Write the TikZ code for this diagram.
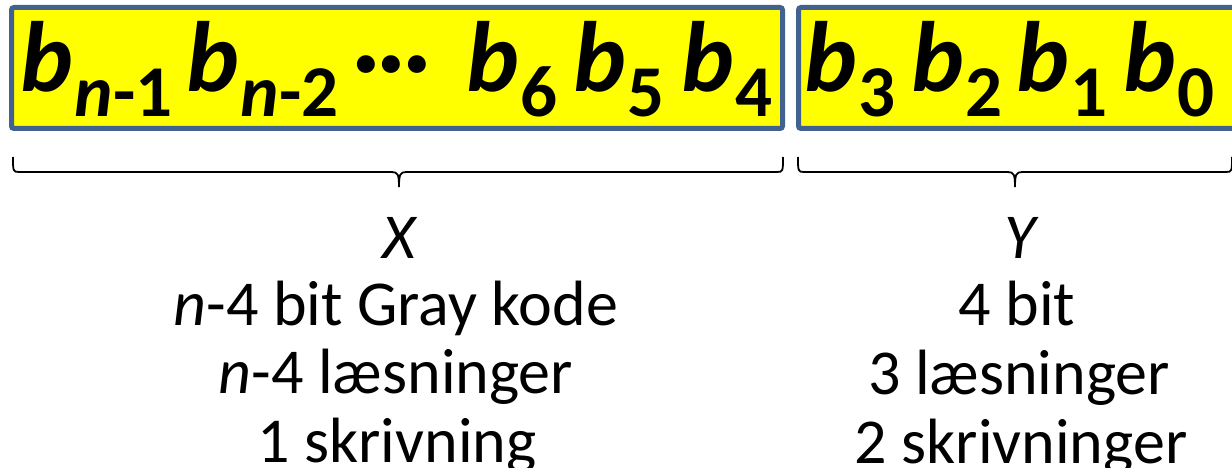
\documentclass[tikz,border=0pt]{standalone}
\usepackage{fontspec}
\setmainfont{Carlito}
\usetikzlibrary{calc}
\definecolor{boxblue}{HTML}{41628F}
\definecolor{boxyellow}{HTML}{FFFF00}
\newcommand\bitb[1]{{\fontsize{100}{100}\selectfont\bfseries\itshape b}\kern2pt{\fontsize{73}{73}\selectfont\bfseries\raisebox{-25pt}{#1}}}
\tikzset{
  regbox/.style={draw=boxblue, line width=5pt, fill=boxyellow, rounded corners=2.5pt, inner sep=0pt},
  bitlbl/.style={anchor=base west, inner sep=0pt},
  brace/.style={draw=black, line width=1.8pt},
  lowtxt/.style={anchor=base, inner sep=0pt, font=\fontsize{64}{64}\selectfont},
}
\begin{document}
\begin{tikzpicture}[x=1pt,y=-1pt]
\clip (0,0) rectangle (1232,468);
\fill[white] (0,0) rectangle (1232,468);
% boxes
\node[regbox, minimum width=771pt, minimum height=121pt] (box1) at (397,68) {};
\node[regbox, minimum width=446pt, minimum height=121pt] (box2) at (1021.5,68) {};
% bits
\node[bitlbl] (b1) at (20,92) {\bitb{\textit{n}-1}};
\node[bitlbl] (b2) at (186,92) {\bitb{\textit{n}-2}};
\node[bitlbl] (dots) at (353,92) {\fontsize{96}{96}\selectfont\bfseries ···};
\node[bitlbl] (b6) at (466,92) {\bitb{6}};
\node[bitlbl] (b5) at (573,92) {\bitb{5}};
\node[bitlbl] (b4) at (681,92) {\bitb{4}};
\node[bitlbl] (b3) at (804,92) {\bitb{3}};
\node[bitlbl] (bb2) at (911,92) {\bitb{2}};
\node[bitlbl] (bb1) at (1016,92) {\bitb{1}};
\node[bitlbl] (b0) at (1123,92) {\bitb{0}};
% braces
\coordinate (l1) at (13,157);
\coordinate (r1) at (783,157);
\coordinate (t1) at (399,187);
\coordinate (l2) at (798,157);
\coordinate (r2) at (1232,157);
\coordinate (t2) at (1015,187);
\foreach \l/\t/\r in {l1/t1/r1, l2/t2/r2}{
\path[brace] (\l) .. controls ($(\l)+(0,14)$) and ($(\l)+(0,15)$) .. ($(\l)+(6,15)$)
  -- ($(\t)+(-7,-15)$) .. controls ($(\t)+(-1,-15)$) and ($(\t)+(0,-12)$) .. (\t)
  .. controls ($(\t)+(0,-12)$) and ($(\t)+(1,-15)$) .. ($(\t)+(7,-15)$)
  -- ($(\r)+(-6,15)$) .. controls ($(\r)+(0,15)$) and ($(\r)+(0,14)$) .. (\r);
}
% labels
\node[lowtxt] (x0) at (399,258) {\itshape X};
\node[lowtxt] (x1) at (396,325) {\textit{n}-4 bit Gray kode};
\node[lowtxt] (x2) at (396,393) {\textit{n}-4 læsninger};
\node[lowtxt] (x3) at (397,462) {1 skrivning};
\node[lowtxt] (y0) at (1020,258) {\itshape Y};
\node[lowtxt] (y1) at (1017,325) {4 bit};
\node[lowtxt] (y2) at (1019,394) {3 læsninger};
\node[lowtxt] (y3) at (1021,463) {2 skrivninger};
\end{tikzpicture}
\end{document}
